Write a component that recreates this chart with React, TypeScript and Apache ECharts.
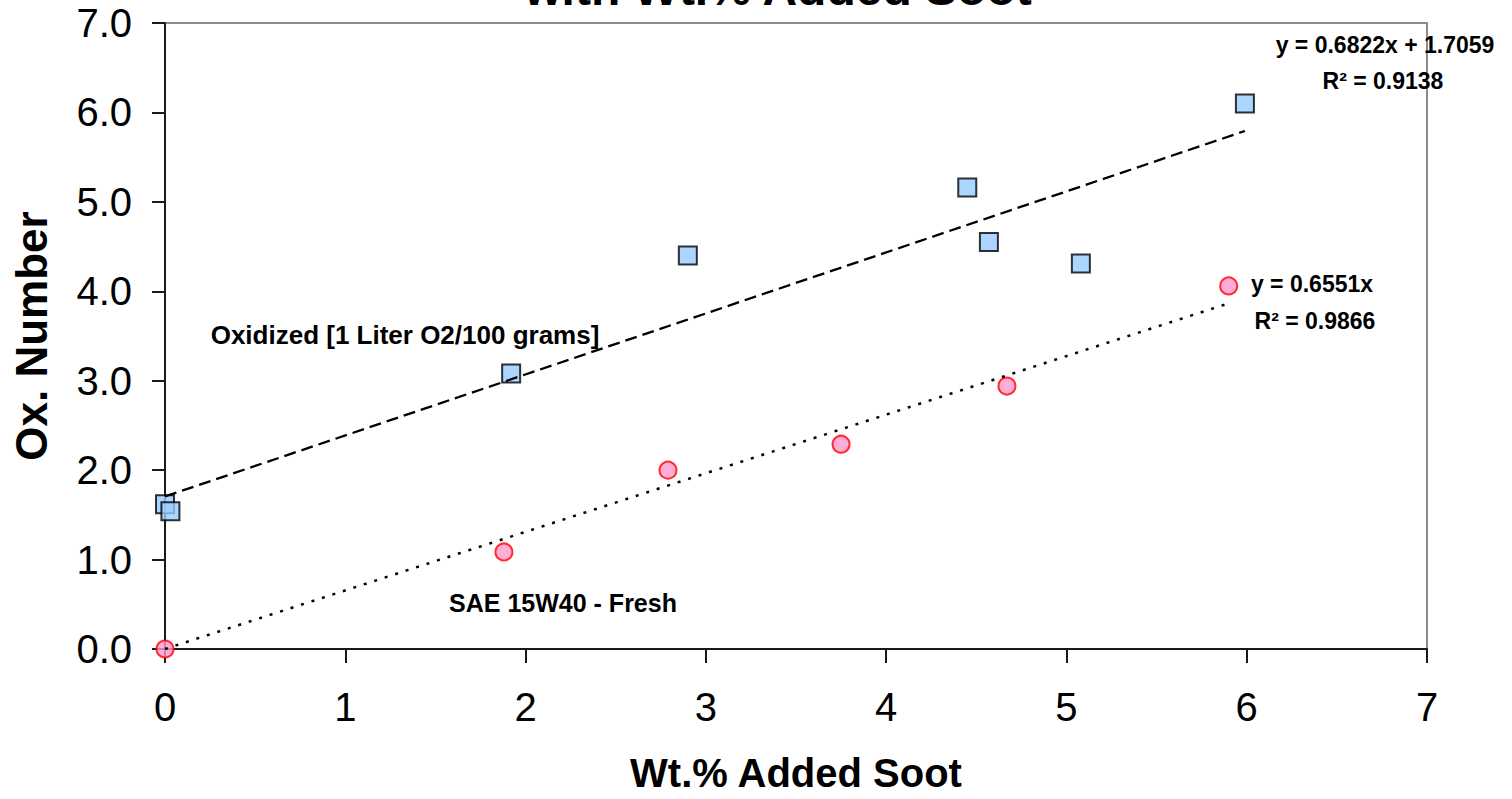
import React, { useEffect, useRef } from 'react';
import * as echarts from 'echarts';

const oxidizedX = [0, 0.03, 1.92, 2.9, 4.45, 4.57, 5.08, 5.99];
const oxidizedY = [1.62, 1.54, 3.08, 4.4, 5.16, 4.55, 4.31, 6.1];
const freshX = [0, 1.88, 2.79, 3.75, 4.67, 5.9];
const freshY = [0, 1.085, 2.0, 2.29, 2.94, 4.06];

const oxidizedTrend = { slope: 0.6822, intercept: 1.7059, r2: 0.9138 };
const freshTrend = { slope: 0.6551, intercept: 0, r2: 0.9866 };

const titleText = 'with Wt.% Added Soot';
const xAxisName = 'Wt.% Added Soot';
const yAxisName = 'Ox. Number';
const oxidizedLabel = 'Oxidized [1 Liter O2/100 grams]';
const freshLabel = 'SAE 15W40 - Fresh';

const FONT = '"Liberation Sans", Arial, sans-serif';

function trendPoints(xs: number[], t: { slope: number; intercept: number }) {
  const x0 = Math.min(...xs);
  const x1 = Math.max(...xs);
  return [
    [x0, t.slope * x0 + t.intercept],
    [x1, t.slope * x1 + t.intercept],
  ];
}

export default function App() {
  const ref = useRef<HTMLDivElement>(null);
  useEffect(() => {
    const chart = echarts.init(ref.current!, null, { renderer: 'svg' });
    const annot = (text: string, x: number, y: number, size: number) => ({
      type: 'text',
      x,
      y,
      z: 100,
      style: {
        text,
        fill: '#000',
        font: `bold ${size}px ${FONT}`,
        textAlign: 'center',
        textVerticalAlign: 'middle',
      },
    });
    chart.setOption({
      animation: false,
      backgroundColor: '#fff',
      textStyle: { fontFamily: FONT },
      grid: {
        left: 165,
        right: 85,
        top: 23,
        bottom: 150,
        show: true,
        borderColor: '#8c8c8c',
        borderWidth: 2,
        backgroundColor: 'transparent',
      },
      xAxis: {
        type: 'value',
        min: 0,
        max: 7,
        interval: 1,
        name: xAxisName,
        nameLocation: 'middle',
        nameGap: 104,
        nameTextStyle: { fontSize: 40, fontWeight: 'bold', color: '#000', fontFamily: FONT },
        axisLine: { show: true, onZero: false, lineStyle: { color: '#1a1a1a', width: 2 } },
        axisTick: { show: true, inside: false, length: 14, lineStyle: { color: '#1a1a1a', width: 2 } },
        axisLabel: { fontSize: 40, color: '#000', margin: 38, fontFamily: FONT },
        splitLine: { show: false },
      },
      yAxis: {
        type: 'value',
        min: 0,
        max: 7,
        interval: 1,
        name: yAxisName,
        nameLocation: 'middle',
        nameGap: 112,
        nameTextStyle: { fontSize: 44, fontWeight: 'bold', color: '#000', fontFamily: FONT },
        axisLine: { show: true, onZero: false, lineStyle: { color: '#1a1a1a', width: 2 } },
        axisTick: { show: true, inside: false, length: 13, lineStyle: { color: '#1a1a1a', width: 2 } },
        axisLabel: {
          fontSize: 40,
          color: '#000',
          margin: 33,
          fontFamily: FONT,
          formatter: (v: number) => v.toFixed(1),
        },
        splitLine: { show: false },
      },
      series: [
        {
          name: 'Oxidized',
          type: 'scatter',
          symbol: 'rect',
          symbolSize: 18,
          z: 3,
          itemStyle: { color: '#99CCFF', borderColor: '#000', borderWidth: 2 },
          data: oxidizedX.map((x, i) => [x, oxidizedY[i]]),
        },
        {
          name: 'Fresh',
          type: 'scatter',
          symbol: 'circle',
          symbolSize: 17,
          z: 3,
          itemStyle: { color: '#FF99CC', borderColor: '#FF0000', borderWidth: 2 },
          data: freshX.map((x, i) => [x, freshY[i]]),
        },
        {
          name: 'Oxidized trend',
          type: 'line',
          z: 4,
          symbol: 'none',
          silent: true,
          lineStyle: { color: '#000', width: 2.3, type: [12, 6] },
          data: trendPoints(oxidizedX, oxidizedTrend),
        },
        {
          name: 'Fresh trend',
          type: 'line',
          z: 4,
          symbol: 'none',
          silent: true,
          lineStyle: { color: '#000', width: 2.5, type: [3, 8] },
          data: trendPoints(freshX, freshTrend),
        },
      ],
      graphic: [
        {
          type: 'text',
          x: 778,
          y: -12,
          style: {
            text: titleText,
            fill: '#000',
            font: `bold 48px ${FONT}`,
            textAlign: 'center',
            textVerticalAlign: 'middle',
          },
        },
        annot(oxidizedLabel, 405, 335, 26),
        annot(freshLabel, 563, 603, 25),
        annot(`y = ${oxidizedTrend.slope}x + ${oxidizedTrend.intercept}`, 1385, 45, 23),
        annot(`R² = ${oxidizedTrend.r2}`, 1383, 81, 23),
        annot(`y = ${freshTrend.slope}x`, 1312, 284, 23),
        annot(`R² = ${freshTrend.r2}`, 1315, 321, 23),
      ],
    });
    return () => chart.dispose();
  }, []);
  return (
    <div
      ref={ref}
      style={{ position: 'fixed', left: 0, top: 0, width: 1512, height: 799, background: '#fff' }}
    />
  );
}
